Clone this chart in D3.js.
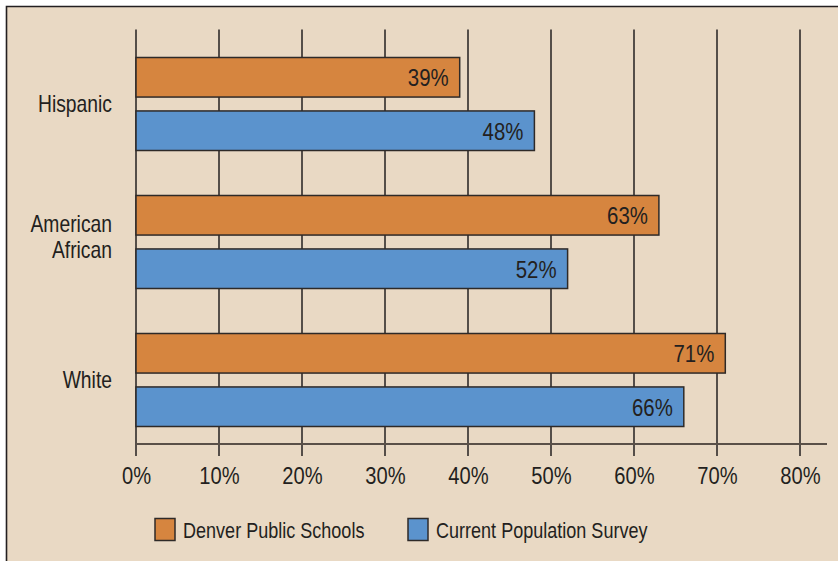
<!DOCTYPE html>
<html>
<head>
<meta charset="utf-8">
<script src="https://cdn.jsdelivr.net/npm/d3@7"></script>
<style>
  html, body { margin: 0; padding: 0; background: #ffffff; }
  svg { display: block; }
  text { font-family: "Liberation Sans", Arial, sans-serif; fill: #231f20; }
</style>
</head>
<body>
<svg id="chart" width="838" height="561"></svg>
<script>
const categories = ["Hispanic", "American African", "White"];
const seriesNames = ["Denver Public Schools", "Current Population Survey"];
const denverValues = [39, 63, 71];
const cpsValues = [48, 52, 66];
const tickValues = [0, 10, 20, 30, 40, 50, 60, 70, 80];
const colors = ["#d6853f", "#5b93cd"];

const tf = (px, py, sx) => `translate(${px},${py}) scale(${sx},1)`;

const svg = d3.select("#chart");
const W = 838, H = 561;

svg.append("rect").attr("x", 6).attr("y", 6).attr("width", W).attr("height", H)
  .attr("fill", "#e9d9c4");
svg.append("path").attr("d", `M6.5,${H} L6.5,6.5 L${W},6.5`)
  .attr("fill", "none").attr("stroke", "#231f20").attr("stroke-width", 1.6);

const x = d3.scaleLinear().domain([0, 80]).range([136, 800]);
const yGroup = d3.scaleBand().domain(categories).range([57.5, 471.5]).paddingInner(0).paddingOuter(0);
const ySeries = d3.scaleBand().domain(seriesNames).range([0, 93]).paddingInner(0.26);

const axisY = 444;

svg.append("g").selectAll("line").data(tickValues).join("line")
  .attr("x1", d => x(d)).attr("x2", d => x(d))
  .attr("y1", 29.5).attr("y2", axisY + 12)
  .attr("stroke", "#231f20").attr("stroke-width", 1.5);

svg.append("line").attr("x1", 136).attr("x2", 827).attr("y1", axisY).attr("y2", axisY)
  .attr("stroke", "#5a5048").attr("stroke-width", 2);

const axis = d3.axisBottom(x).tickValues(tickValues).tickFormat(d => d + "%").tickSize(0).tickPadding(0);
const ag = svg.append("g").attr("transform", `translate(0,${axisY})`).call(axis);
ag.select(".domain").remove();
ag.selectAll("text").attr("y", null).attr("dy", null)
  .attr("transform", tf(0, 40, 0.84)).attr("text-anchor", "middle")
  .style("font-size", "24px").style("fill", "#231f20")
  .style("font-family", '"Liberation Sans", Arial, sans-serif');

const data = categories.map((c, i) => ({cat: c, vals: [denverValues[i], cpsValues[i]]}));
const groups = svg.append("g").selectAll("g").data(data).join("g")
  .attr("transform", d => `translate(0,${yGroup(d.cat)})`);
const items = d => d.vals.map((v, j) => ({v, s: seriesNames[j], j}));
groups.selectAll("rect").data(items).join("rect")
  .attr("x", x(0)).attr("y", d => ySeries(d.s))
  .attr("width", d => x(d.v) - x(0)).attr("height", ySeries.bandwidth())
  .attr("fill", d => colors[d.j]).attr("stroke", "#2e2a28").attr("stroke-width", 1.5);
groups.selectAll("text.val").data(items).join("text")
  .attr("class", "val")
  .attr("transform", d => tf(x(d.v) - 11, ySeries(d.s) + ySeries.bandwidth() / 2 + 9, 0.85))
  .attr("text-anchor", "end").style("font-size", "24px")
  .text(d => d.v + "%");

groups.each(function(d) {
  const g = d3.select(this);
  const words = d.cat.split(" ");
  const lineH = 26;
  words.forEach((w, k) => {
    const yy = 54 + (k - (words.length - 1) / 2) * lineH - (words.length > 1 ? 5 : 0);
    g.append("text").attr("text-anchor", "end").style("font-size", "23px")
      .attr("transform", tf(112, yy, 0.84)).text(w);
  });
});

const legend = svg.append("g");
const legendPos = [155, 408];
seriesNames.forEach((s, j) => {
  legend.append("rect").attr("x", legendPos[j]).attr("y", 518.5).attr("width", 20).attr("height", 22)
    .attr("fill", colors[j]).attr("stroke", "#2e2a28").attr("stroke-width", 1.5);
  legend.append("text").attr("transform", tf(legendPos[j] + 28, 538, 0.82))
    .style("font-size", "22px").text(s);
});
</script>
</body>
</html>
